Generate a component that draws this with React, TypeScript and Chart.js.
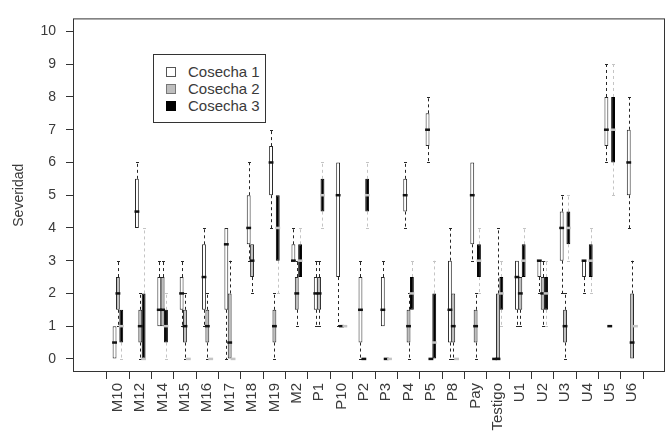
import React, { useEffect, useRef } from 'react';
import { Chart, registerables } from 'chart.js';

Chart.register(...registerables);

// ---------- data ----------
const categories = ['M10', 'M12', 'M14', 'M15', 'M16', 'M17', 'M18', 'M19', 'M2', 'P1', 'P10', 'P2', 'P3', 'P4', 'P5', 'P8', 'Pay', 'Testigo', 'U1', 'U2', 'U3', 'U4', 'U5', 'U6'];
const yTickValues = [0, 1, 2, 3, 4, 5, 6, 7, 8, 9, 10];
const seriesNames = ['Cosecha 1', 'Cosecha 2', 'Cosecha 3'];

// [min, q1, median, q3, max]
type Box = [number, number, number, number, number] | null;

const cosecha1: Box[] = [
  [0, 0, 0.5, 1, 1], [4, 4, 4.5, 5.5, 6], [1, 1, 1.5, 2.5, 3], [1, 1.5, 2, 2.5, 3],
  [1, 1.5, 2.5, 3.5, 4], [0, 1.5, 3.5, 4, 4], [3, 3.5, 4, 5, 6], [4, 5, 6, 6.5, 7],
  [3, 3, 3, 3.5, 4], [1, 1.5, 2, 2.5, 3], [1, 2.5, 5, 6, 6], [0, 0.5, 1.5, 2.5, 3],
  [1, 1, 1.5, 2.5, 3], [4, 4.5, 5, 5.5, 6], [6, 6.5, 7, 7.5, 8], [0, 0.5, 1.5, 3, 4],
  [3, 3.5, 5, 6, 6], [0, 0, 0, 0, 0], [1, 1.5, 2.5, 3, 3], [2, 2.5, 3, 3, 3],
  [2, 3, 4, 4.5, 5], [2, 2.5, 3, 3, 3], [6, 6.5, 7, 8, 9], [4, 5, 6, 7, 8],
];

const cosecha2: Box[] = [
  [1, 1.5, 2, 2.5, 3], [0, 0.5, 1, 1.5, 2], [1, 1, 1.5, 2.5, 3], [0, 0.5, 1, 1.5, 2],
  [0, 0.5, 1, 1.5, 2], [0, 0, 0.5, 2, 3], [2, 2.5, 3, 3.5, 3.5], [0, 0.5, 1, 1.5, 2],
  [1, 1.5, 2, 2.5, 3], [1, 1.5, 2, 2.5, 3], [1, 1, 1, 1, 1], [0, 0, 0, 0, 0],
  [0, 0, 0, 0, 0], [0, 0.5, 1, 1.5, 2], [0, 0, 0, 0, 0], [0, 0.5, 1, 2, 2],
  [0, 0.5, 1, 1.5, 2], [0, 0, 0, 2, 4], [1, 1.5, 2, 2.5, 2.5], [1, 1.5, 2, 2.5, 3],
  [0, 0.5, 1, 1.5, 2], null, [1, 1, 1, 1, 1], [0, 0, 0.5, 2, 3],
];

const cosecha3: Box[] = [
  [0, 0.5, 1, 1.5, 1.5], [0, 0, 0, 2, 4], [0, 0.5, 1, 1.5, 2], [0, 0, 0, 0, 0],
  [0, 0, 0, 0, 0], [0, 0, 0, 0, 0], null, [2, 3, 4, 5, 5],
  [2.5, 2.5, 3, 3.5, 4], [4, 4.5, 5, 5.5, 6], [1, 1, 1, 1, 1], [4, 4.5, 5, 5.5, 6],
  [0, 0, 0, 0, 0], [1.5, 1.5, 2, 2.5, 3], [0, 0, 0.5, 2, 3], [0, 0, 0, 0, 0],
  [2, 2.5, 3, 3.5, 4], [1, 1.5, 2, 2.5, 3], [2.5, 2.5, 3, 3.5, 4], [1, 1.5, 2, 2.5, 3],
  [3, 3.5, 4, 4.5, 5], [2, 2.5, 3, 3.5, 4], [5, 6, 7, 8, 9], [1, 1, 1, 1, 1],
];

const allSeries = [cosecha1, cosecha2, cosecha3];

// ---------- styles ----------
const FONT = '"Liberation Sans", Arial, sans-serif';
const TEXT = '#3a3a3a';
const seriesStyles = [
  { fill: '#ffffff', border: '#262626', whisker: '#262626', median: '#111111', legendBorder: '#555555' },
  { fill: '#bebebe', border: '#262626', whisker: '#262626', median: '#111111', legendBorder: '#777777' },
  { fill: '#000000', border: '#000000', whisker: '#c4c4c4', median: '#c4c4c4', legendBorder: '#000000' },
];

const boxParts = {
  id: 'boxParts',
  beforeDatasetsDraw(chart: any) {
    const ctx = chart.ctx;
    const ys = chart.scales.y;
    allSeries.forEach((boxes, di) => {
      const meta = chart.getDatasetMeta(di);
      const st = seriesStyles[di];
      meta.data.forEach((el: any, j: number) => {
        const b = boxes[j];
        if (!b) return;
        const x = Math.round(el.x) + 0.5;
        ctx.save();
        ctx.strokeStyle = st.whisker;
        ctx.lineWidth = 1;
        const seg = (from: number, to: number) => {
          if (from === to) return;
          const p0 = ys.getPixelForValue(from);
          const p1 = ys.getPixelForValue(to);
          ctx.setLineDash([3, 3]);
          ctx.beginPath();
          ctx.moveTo(x, p0);
          ctx.lineTo(x, p1);
          ctx.stroke();
          ctx.setLineDash([]);
          const py = Math.round(p1) + 0.5;
          ctx.beginPath();
          ctx.moveTo(x - 1.5, py);
          ctx.lineTo(x + 1.5, py);
          ctx.stroke();
        };
        seg(b[3], b[4]);
        seg(b[1], b[0]);
        ctx.restore();
      });
    });
  },
  afterDatasetsDraw(chart: any) {
    const ctx = chart.ctx;
    const ys = chart.scales.y;
    allSeries.forEach((boxes, di) => {
      const meta = chart.getDatasetMeta(di);
      const st = seriesStyles[di];
      meta.data.forEach((el: any, j: number) => {
        const b = boxes[j];
        if (!b) return;
        const half = el.width / 2 + 0.5;
        const py = ys.getPixelForValue(b[2]);
        ctx.save();
        ctx.strokeStyle = st.median;
        ctx.lineWidth = 2.5;
        ctx.beginPath();
        ctx.moveTo(el.x - half, py);
        ctx.lineTo(el.x + half, py);
        ctx.stroke();
        ctx.restore();
      });
    });
    const a = chart.chartArea;
    ctx.save();
    ctx.strokeStyle = '#333333';
    ctx.lineWidth = 1;
    ctx.strokeRect(a.left + 0.5, a.top + 0.5, a.right - a.left - 1, a.bottom - a.top - 1);
    ctx.restore();
  },
};

export default function App() {
  const canvasRef = useRef<HTMLCanvasElement | null>(null);

  useEffect(() => {
    const canvas = canvasRef.current;
    if (!canvas) return;
    const datasets = allSeries.map((boxes, di) => ({
      label: seriesNames[di],
      data: boxes.map((b, i) => ({ x: i, y: b ? [b[1], b[3]] : null })),
      backgroundColor: seriesStyles[di].fill,
      borderColor: seriesStyles[di].border,
      borderWidth: 1,
      borderSkipped: false,
      categoryPercentage: 0.45,
      barPercentage: 1.15,
    }));
    const chart = new Chart(canvas, {
      type: 'bar',
      data: { datasets } as any,
      options: {
        animation: false,
        responsive: false,
        devicePixelRatio: 1,
        layout: { padding: { top: 7, right: 5, left: 0, bottom: 0 } },
        plugins: { legend: { display: false }, tooltip: { enabled: false } },
        scales: {
          x: {
            type: 'linear',
            min: -1.457,
            max: 23.92,
            afterBuildTicks: (s: any) => {
              s.ticks = categories.map((_, i) => ({ value: i }));
            },
            afterFit: (s: any) => {
              s.height = 67;
            },
            ticks: {
              autoSkip: false,
              minRotation: 90,
              maxRotation: 90,
              padding: 4,
              color: TEXT,
              font: { family: FONT, size: 15 },
              callback: (v: any) => categories[Math.round(Number(v))] ?? '',
            },
            grid: { display: true, drawOnChartArea: false, drawTicks: true, tickLength: 7, tickColor: '#333333', color: '#333333' },
            border: { display: false },
          },
          y: {
            type: 'linear',
            min: -0.4,
            max: 10.4,
            afterBuildTicks: (s: any) => {
              s.ticks = yTickValues.map((v) => ({ value: v }));
            },
            afterFit: (s: any) => {
              s.width = 73;
            },
            ticks: { padding: 10, color: TEXT, font: { family: FONT, size: 14 } },
            grid: { display: true, drawOnChartArea: false, drawTicks: true, tickLength: 7, tickColor: '#333333', color: '#333333' },
            border: { display: false },
            title: {
              display: true,
              text: 'Severidad',
              color: TEXT,
              font: { family: FONT, size: 14 },
              padding: { top: 11, bottom: 0 },
            },
          },
        },
      } as any,
      plugins: [boxParts],
    });
    return () => chart.destroy();
  }, []);

  return (
    <div style={{ position: 'absolute', left: 0, top: 0, width: 670, height: 439, background: '#ffffff' }}>
      <canvas ref={canvasRef} width={670} height={439} style={{ display: 'block' }} />
      <div
        style={{
          position: 'absolute',
          left: 153,
          top: 54,
          width: 113,
          height: 69,
          border: '1px solid #333333',
          boxSizing: 'border-box',
          background: '#ffffff',
          fontFamily: FONT,
          fontSize: 15,
          color: TEXT,
        }}
      >
        {seriesNames.map((name, i) => (
          <div
            key={name}
            style={{ position: 'absolute', left: 0, top: 8 + i * 17, height: 17, display: 'flex', alignItems: 'center', whiteSpace: 'nowrap' }}
          >
            <span
              style={{
                display: 'inline-block',
                width: 10,
                height: 10,
                marginLeft: 12,
                boxSizing: 'border-box',
                background: seriesStyles[i].fill,
                border: `1px solid ${seriesStyles[i].legendBorder}`,
              }}
            />
            <span style={{ marginLeft: 12, lineHeight: '17px' }}>{name}</span>
          </div>
        ))}
      </div>
    </div>
  );
}
